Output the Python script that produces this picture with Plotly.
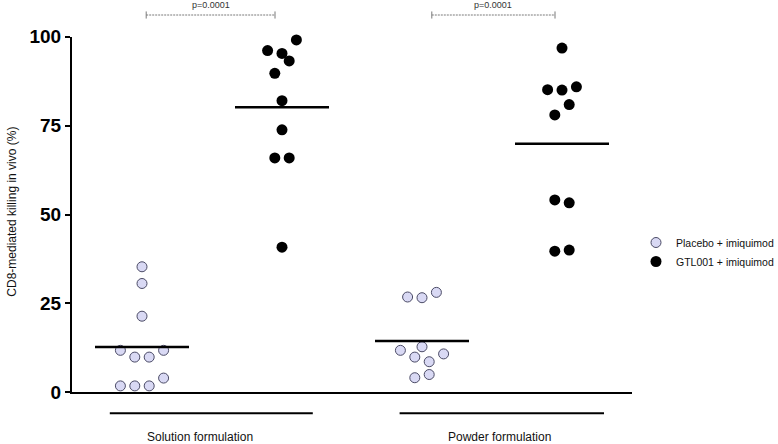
import plotly.graph_objects as go

# ---------------- data ----------------
CATEGORIES = ["Solution formulation", "Powder formulation"]
SERIES = ["Placebo + imiquimod", "GTL001 + imiquimod"]

SOL_PLACEBO = [35.3, 30.6, 21.4, 11.8, 9.9, 9.9, 11.8, 1.8, 1.8, 1.8, 4.0]
SOL_GTL001 = [99.1, 96.1, 95.3, 93.2, 89.7, 82.0, 73.8, 65.9, 65.9, 40.8]
POW_PLACEBO = [26.8, 26.6, 28.1, 12.8, 11.8, 10.8, 9.9, 8.6, 5.0, 4.1]
POW_GTL001 = [96.8, 85.1, 85.0, 85.9, 80.9, 78.0, 54.1, 53.3, 39.7, 40.0]

P_VALUES = ["p=0.0001", "p=0.0001"]
Y_TICKS = [0, 25, 50, 75, 100]

# horizontal scatter slots (beeswarm layout, in half-marker steps)
SOL_PLACEBO_SLOT = [0, 0, 0, -3, -1, 1, 3, -3, -1, 1, 3]
SOL_GTL001_SLOT = [2, -2, 0, 1, -1, 0, 0, -1, 1, 0]
POW_PLACEBO_SLOT = [-2, 0, 2, 0, -3, 3, -1, 1, 1, -1]
POW_GTL001_SLOT = [0, -2, 0, 2, 1, -1, -1, 1, -1, 1]

DATA = {
    (0, 0): (SOL_PLACEBO, SOL_PLACEBO_SLOT),
    (0, 1): (SOL_GTL001, SOL_GTL001_SLOT),
    (1, 0): (POW_PLACEBO, POW_PLACEBO_SLOT),
    (1, 1): (POW_GTL001, POW_GTL001_SLOT),
}

# ---------------- layout geometry ----------------
W, H = 778, 444
ML, MR, MT, MB = 72, 146, 2, 2
PLOT_H = H - MT - MB
PLOT_W = W - ML - MR
Y0_PX, Y100_PX = 392.3, 36.7          # pixel rows of y=0 and y=100
PPU = (Y0_PX - Y100_PX) / 100.0       # pixels per y unit
DOM0 = (H - MB - Y0_PX) / PLOT_H
DOM1 = (H - MB - Y100_PX) / PLOT_H
Y2_LO = -(H - MB - Y0_PX) / PPU
Y2_HI = (Y0_PX - MT) / PPU
X_RANGE = [0.5, 4.5]
XPPU = PLOT_W / (X_RANGE[1] - X_RANGE[0])
SLOT = 7.2 / XPPU
MEAN_HALF = 47 / XPPU


def pos(g, s):
    return 1 + 2 * g + s


fig = go.Figure()

MARKERS = [
    dict(size=10, color="#d9d9f4", line=dict(color="#4b4b66", width=1)),
    dict(size=11, color="#000000", line=dict(color="#000000", width=0)),
]

# points
for s, name in enumerate(SERIES):
    xs, ys = [], []
    for g in range(len(CATEGORIES)):
        vals, slots = DATA[(g, s)]
        for v, k in zip(vals, slots):
            xs.append(pos(g, s) + k * SLOT)
            ys.append(v)
    fig.add_trace(go.Scatter(
        x=xs, y=ys, mode="markers", name=name, marker=MARKERS[s],
        xaxis="x2", yaxis="y2", cliponaxis=False,
    ))

# mean lines
mx, my = [], []
for (g, s), (vals, _) in DATA.items():
    m = sum(vals) / len(vals)
    c = pos(g, s)
    mx += [c - MEAN_HALF, c + MEAN_HALF, None]
    my += [m, m, None]
fig.add_trace(go.Scatter(x=mx, y=my, mode="lines", line=dict(color="black", width=2.5),
                         showlegend=False, hoverinfo="skip", xaxis="x2", yaxis="y2"))

# group underline bars
GROUP_LINE_Y = -5.9
gx, gy = [], []
for g in range(len(CATEGORIES)):
    left = pos(g, 0) - 0.23 if g == 0 else pos(g, 0) - 0.16
    right = pos(g, 1) + 0.22 if g == 0 else pos(g, 1) + 0.30
    gx += [left, right, None]
    gy += [GROUP_LINE_Y, GROUP_LINE_Y, None]
fig.add_trace(go.Scatter(x=gx, y=gy, mode="lines", line=dict(color="black", width=2),
                         showlegend=False, hoverinfo="skip", xaxis="x2", yaxis="y2"))

# significance brackets
BR_Y = 106.1
CAP = 1.0
bx, by, cx, cy = [], [], [], []
for g in range(len(CATEGORIES)):
    a = pos(g, 0) + (0.03 if g == 0 else 0.07)
    b = pos(g, 1) - 0.05
    bx += [a, b, None]
    by += [BR_Y, BR_Y, None]
    cx += [a, a, None, b, b, None]
    cy += [BR_Y - CAP, BR_Y + CAP, None, BR_Y - CAP, BR_Y + CAP, None]
    fig.add_annotation(x=(a + b) / 2, y=108.8, xref="x2", yref="y2", text=P_VALUES[g],
                       showarrow=False, font=dict(family="Arial", size=9, color="#333333"),
                       xanchor="center", yanchor="middle")
fig.add_trace(go.Scatter(x=bx, y=by, mode="lines",
                         line=dict(color="#7a7a7a", width=1, dash="2px,1px"),
                         showlegend=False, hoverinfo="skip", xaxis="x2", yaxis="y2"))
fig.add_trace(go.Scatter(x=cx, y=cy, mode="lines", line=dict(color="#7a7a7a", width=1),
                         showlegend=False, hoverinfo="skip", xaxis="x2", yaxis="y2"))

# category labels
LABEL_X = [1.414, 3.557]
for g, cat in enumerate(CATEGORIES):
    fig.add_annotation(x=LABEL_X[g], y=-12.6, xref="x2", yref="y2", text=cat,
                       showarrow=False, font=dict(family="Arial", size=12, color="#111111"),
                       xanchor="center", yanchor="middle")

# y axis title
fig.add_annotation(x=-60 / PLOT_W, y=50.8, xref="paper", yref="y",
                   text="CD8-mediated killing in vivo (%)", textangle=-90, showarrow=False,
                   font=dict(family="Arial", size=12, color="#111111"),
                   xanchor="center", yanchor="middle")

fig.update_layout(
    template="none",
    width=W, height=H,
    margin=dict(l=ML, r=MR, t=MT, b=MB, pad=0, autoexpand=False),
    paper_bgcolor="white", plot_bgcolor="rgba(0,0,0,0)",
    showlegend=True,
    legend=dict(x=(636 - ML) / PLOT_W, xanchor="left", y=(H - MB - 228) / PLOT_H, yanchor="top",
                font=dict(family="Arial", size=10.5, color="#111111"),
                bgcolor="rgba(0,0,0,0)", tracegroupgap=0, itemwidth=30),
    xaxis=dict(range=X_RANGE, domain=[0, 1], showline=True, linewidth=2, linecolor="black",
               showticklabels=False, ticks="", showgrid=False, zeroline=False, fixedrange=True,
               automargin=False),
    yaxis=dict(range=[0, 100], domain=[DOM0, DOM1], showline=True, linewidth=2,
               linecolor="black", ticks="outside", ticklen=5, tickwidth=2, tickcolor="black",
               tickvals=Y_TICKS, ticktext=[str(t) for t in Y_TICKS],
               tickfont=dict(family="Arial", size=19, color="black", weight="bold"),
               showgrid=False, zeroline=False, fixedrange=True, automargin=False),
    xaxis2=dict(range=X_RANGE, domain=[0, 1], anchor="y2", visible=False, fixedrange=True),
    yaxis2=dict(range=[Y2_LO, Y2_HI], domain=[0, 1], anchor="x2", visible=False, fixedrange=True),
)

fig.write_html(
    "out.html",
    config={"displayModeBar": False},
    post_script="document.body.style.margin='0';document.body.style.overflow='hidden';",
)
